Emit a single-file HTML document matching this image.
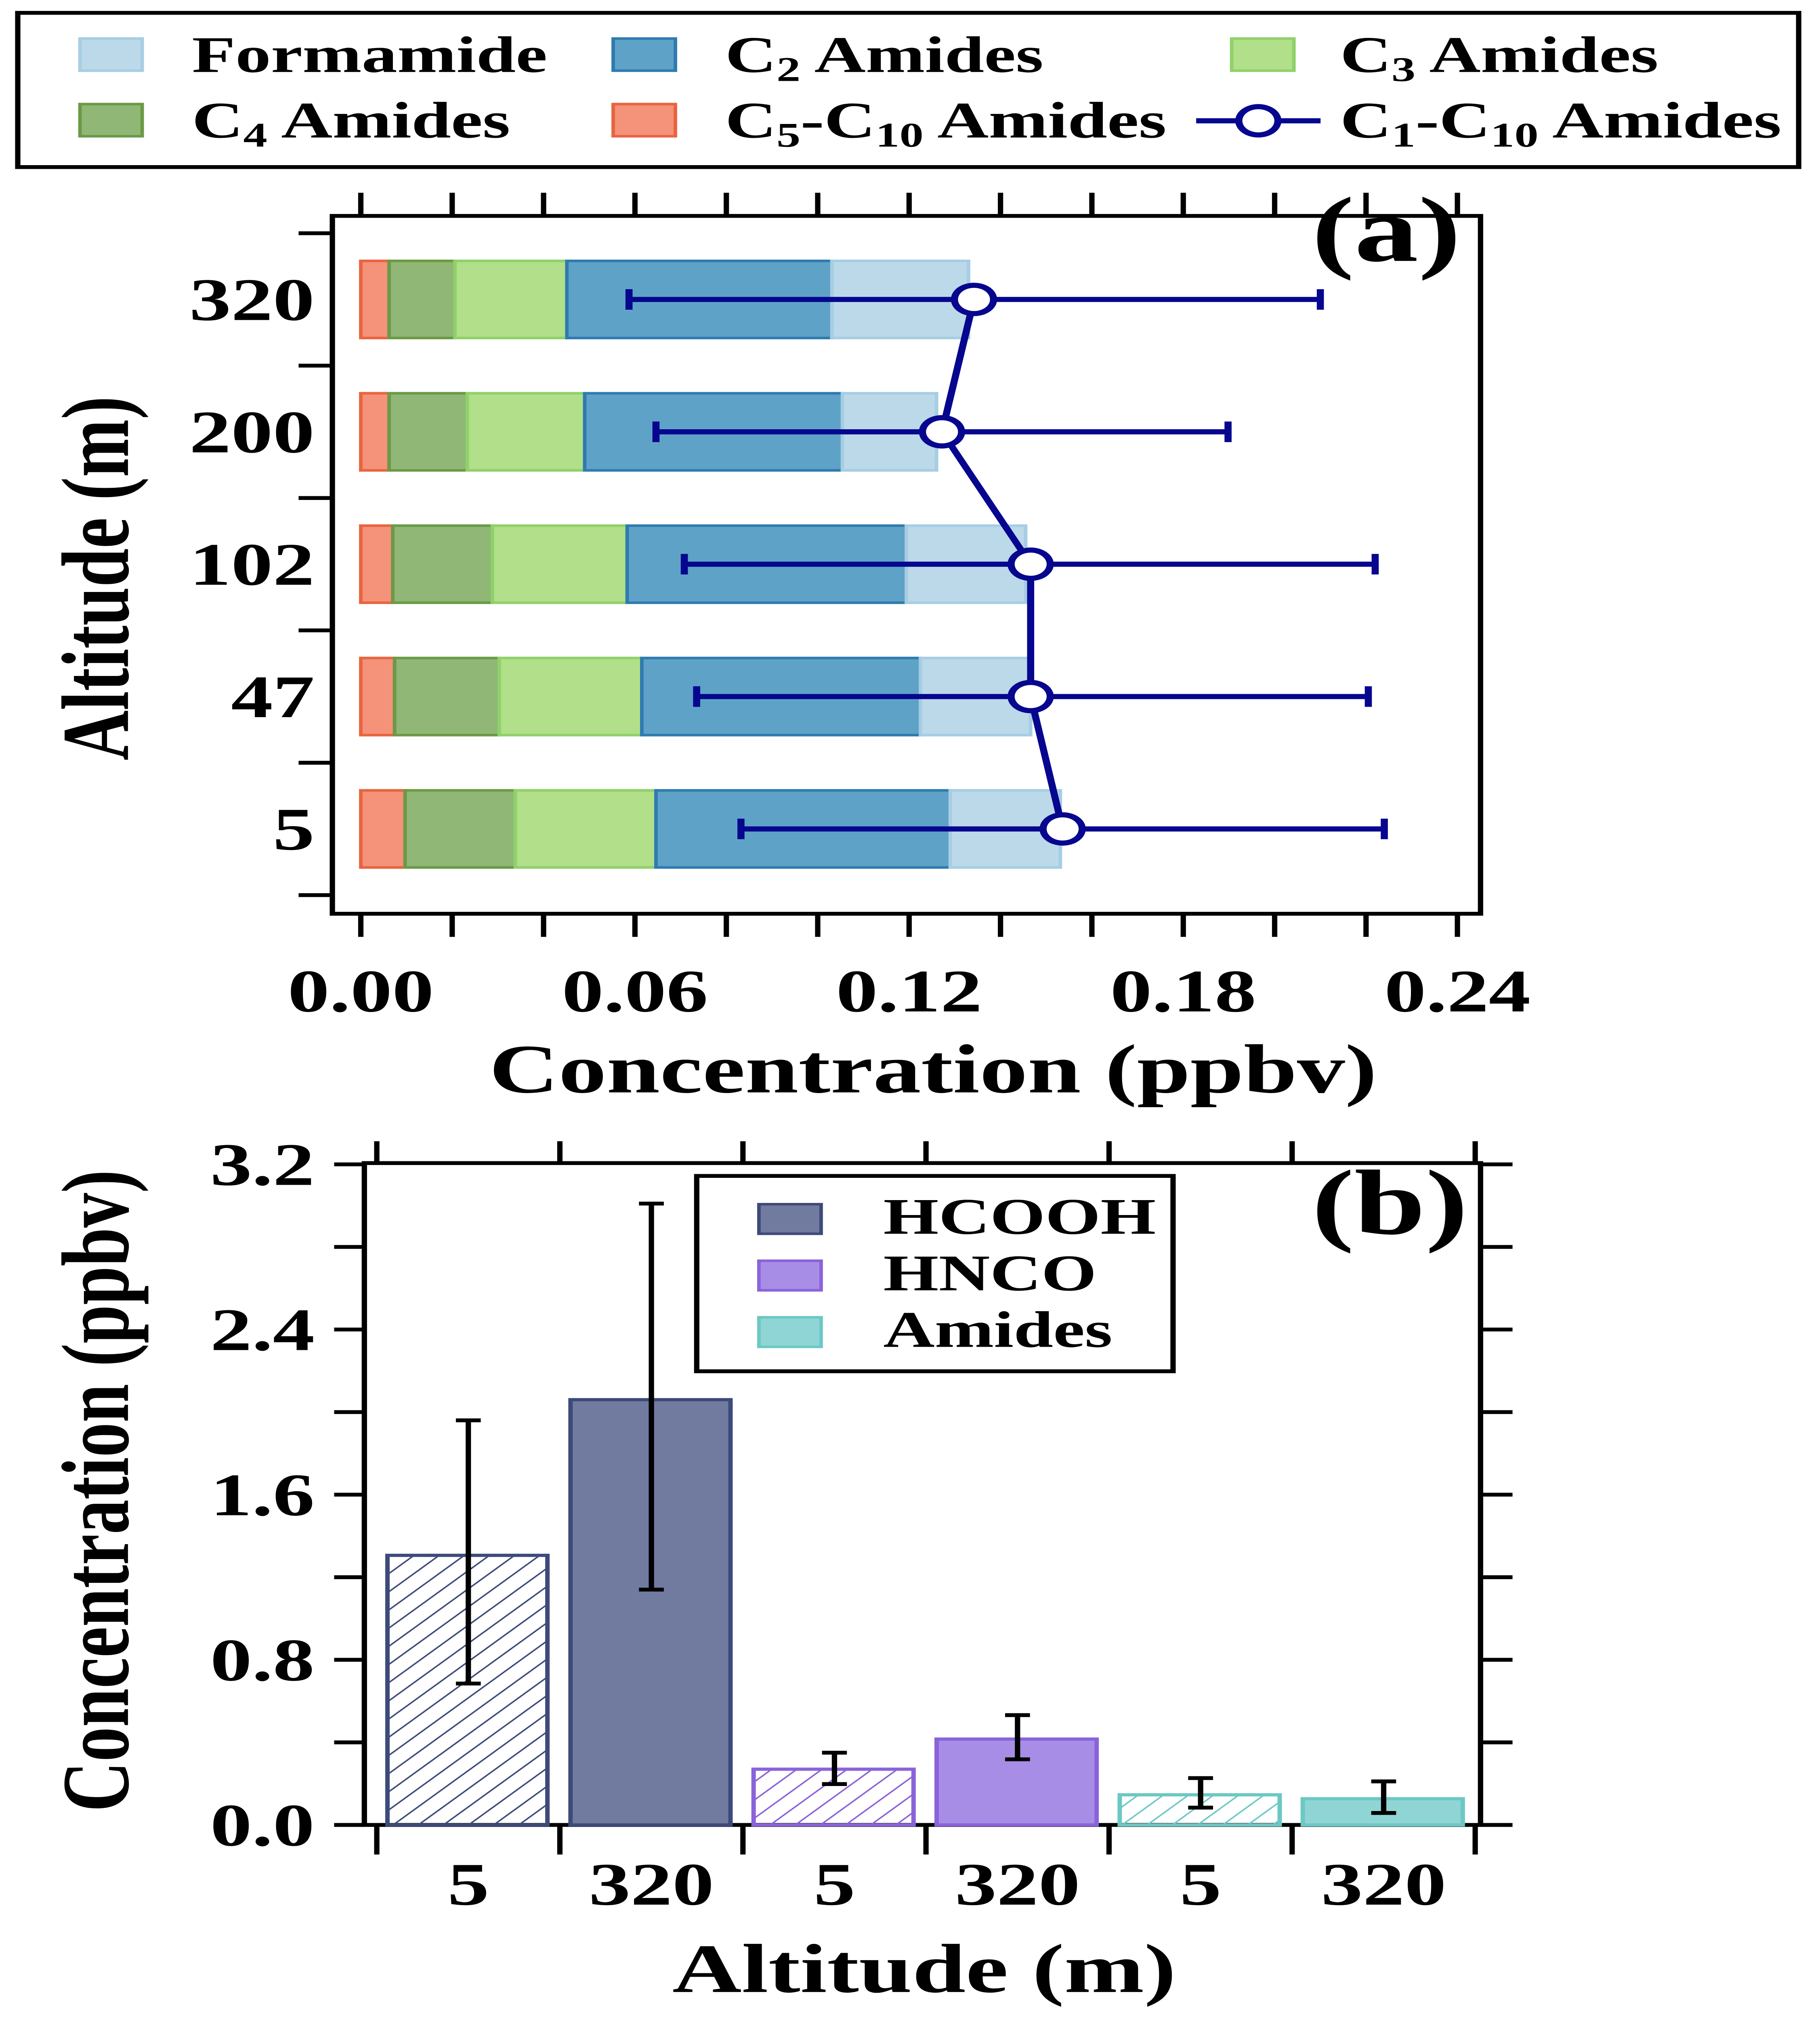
<!DOCTYPE html>
<html><head><meta charset="utf-8"><style>
html,body{margin:0;padding:0;background:#fff;width:100%;height:100%;overflow:hidden;}
svg{display:block;position:fixed;left:0;top:0;width:100vw;height:100vh;}
text{font-family:"Liberation Serif",serif;font-weight:bold;fill:#000;}
</style></head><body>
<svg id="chart" viewBox="0 0 1024 1571" preserveAspectRatio="none" xmlns="http://www.w3.org/2000/svg">
<defs>
<pattern id="hatch-hcooh" patternUnits="userSpaceOnUse" width="10" height="10" patternTransform="rotate(45)"><line x1="0" y1="0" x2="0" y2="10" stroke="#3d4a7a" stroke-width="2"/></pattern>
<pattern id="hatch-hnco" patternUnits="userSpaceOnUse" width="10" height="10" patternTransform="rotate(45)"><line x1="0" y1="0" x2="0" y2="10" stroke="#8a63d9" stroke-width="2"/></pattern>
<pattern id="hatch-amides" patternUnits="userSpaceOnUse" width="10" height="10" patternTransform="rotate(45)"><line x1="0" y1="0" x2="0" y2="10" stroke="#6cc8c4" stroke-width="2"/></pattern>
</defs>
<g id="legend-top">
<rect x="10" y="10" width="1002" height="120" fill="#fff" stroke="#000" stroke-width="3"/>
<rect x="45" y="30" width="35" height="25" fill="#bcd9ea" stroke="#a6cde3" stroke-width="2"/>
<text x="108" y="56" font-size="40">Formamide</text>
<rect x="345" y="30" width="35" height="25" fill="#5ea3c7" stroke="#2f7bb0" stroke-width="2"/>
<text x="408" y="56" font-size="40">C<tspan font-size="27" dy="7">2</tspan><tspan dy="-7"> Amides</tspan></text>
<rect x="693" y="30" width="35" height="25" fill="#b2df8a" stroke="#8fd16a" stroke-width="2"/>
<text x="754" y="56" font-size="40">C<tspan font-size="27" dy="7">3</tspan><tspan dy="-7"> Amides</tspan></text>
<rect x="45" y="81" width="35" height="25" fill="#91b777" stroke="#6a9a46" stroke-width="2"/>
<text x="108" y="107" font-size="40">C<tspan font-size="27" dy="7">4</tspan><tspan dy="-7"> Amides</tspan></text>
<rect x="345" y="81" width="35" height="25" fill="#f4927a" stroke="#e8643f" stroke-width="2"/>
<text x="408" y="107" font-size="40">C<tspan font-size="27" dy="7">5</tspan><tspan dy="-7">-C</tspan><tspan font-size="27" dy="7">10</tspan><tspan dy="-7"> Amides</tspan></text>
<line x1="673" y1="94" x2="743" y2="94" stroke="#06068f" stroke-width="4"/>
<circle cx="708" cy="94" r="11" fill="#fff" stroke="#06068f" stroke-width="4"/>
<text x="754" y="107" font-size="40">C<tspan font-size="27" dy="7">1</tspan><tspan dy="-7">-C</tspan><tspan font-size="27" dy="7">10</tspan><tspan dy="-7"> Amides</tspan></text>
</g>
<g id="pa"></g>
<g id="pb"></g>
</svg>
<script>
// Panel (a) data
const altA = ["5","47","102","200","320"];
const c5c10 = [0.0097,0.0074,0.0070,0.0062,0.0062];
const c4 = [0.0241,0.0229,0.0218,0.0171,0.0144];
const c3 = [0.0308,0.0312,0.0295,0.0257,0.0245];
const c2 = [0.0644,0.0610,0.0611,0.0564,0.0580];
const formamide = [0.0241,0.0241,0.0261,0.0206,0.0299];
const totalA = [0.1536,0.1466,0.1466,0.1272,0.1342];
const errLowA = [0.0832,0.0735,0.0708,0.0646,0.0587];
const errHighA = [0.2240,0.2205,0.2220,0.1898,0.2100];
const xTicksA = ["0.00","0.06","0.12","0.18","0.24"];
// Panel (b) data
const catB = ["5","320","5","320","5","320"];
const valB = [1.306,2.06,0.27,0.416,0.146,0.127];
const errLowB = [0.685,1.14,0.198,0.318,0.084,0.058];
const errHighB = [1.96,3.01,0.35,0.532,0.227,0.211];
const yTicksB = ["0.0","0.8","1.6","2.4","3.2"];

const NS="http://www.w3.org/2000/svg";
function mk(parent,tag,attrs){const e=document.createElementNS(NS,tag);for(const k in attrs)e.setAttribute(k,attrs[k]);parent.appendChild(e);return e;}
const TICKFS=47, TITLEFS=54;

// ---- Panel a
const pa=document.getElementById('pa');
const ax=v=>203+v*(617/0.24);
const ay=i=>645-i*103;
mk(pa,'rect',{x:187,y:168,width:646,height:543,fill:'none',stroke:'#000','stroke-width':3});
for(let k=0;k<=12;k++){const x=ax(k*0.02);
 let t=mk(pa,'line',{x1:x,y1:150,x2:x,y2:168,stroke:'#000','stroke-width':3});
 
 
 let b=mk(pa,'line',{x1:x,y1:711,x2:x,y2:729,stroke:'#000','stroke-width':3});
 
 }
xTicksA.forEach((s,i)=>{const t=mk(pa,'text',{x:ax(i*0.06),y:787,'font-size':TICKFS,'text-anchor':'middle'});t.textContent=s;
 
 });
for(let k=0;k<=5;k++){const y=ay(k)+51.5;
 let t=mk(pa,'line',{x1:168,y1:y,x2:187,y2:y,stroke:'#000','stroke-width':3});
 
 }
altA.forEach((s,i)=>{const t=mk(pa,'text',{x:177,y:ay(i)+16,'font-size':TICKFS,'text-anchor':'end'});t.textContent=s;
 
 });
const series=[[c5c10,'#f4927a','#e8643f','c5-c10'],[c4,'#91b777','#6a9a46','c4'],[c3,'#b2df8a','#8fd16a','c3'],[c2,'#5ea3c7','#2f7bb0','c2'],[formamide,'#bcd9ea','#a6cde3','formamide']];
altA.forEach((a,i)=>{let cum=0;series.forEach(s=>{const v=s[0][i];
 const r=mk(pa,'rect',{x:ax(cum),y:ay(i)-30,width:ax(cum+v)-ax(cum),height:60,fill:s[1],stroke:s[2],'stroke-width':2});
 
 
 cum+=v;});});
altA.forEach((a,i)=>{const y=ay(i);
 const l=mk(pa,'line',{x1:ax(errLowA[i]),y1:y,x2:ax(errHighA[i]),y2:y,stroke:'#06068f','stroke-width':4});
 
 
 [errLowA[i],errHighA[i]].forEach(v=>mk(pa,'line',{x1:ax(v),y1:y-8,x2:ax(v),y2:y+8,stroke:'#06068f','stroke-width':4}));});
const pl=mk(pa,'polyline',{points:altA.map((a,i)=>ax(totalA[i])+','+ay(i)).join(' '),fill:'none',stroke:'#06068f','stroke-width':4});


altA.forEach((a,i)=>{const c=mk(pa,'circle',{cx:ax(totalA[i]),cy:ay(i),r:11,fill:'#fff',stroke:'#06068f','stroke-width':4});
 
 });
let t=mk(pa,'text',{x:780,y:203,'font-size':72,'text-anchor':'middle'});t.textContent='(a)';


t=mk(pa,'text',{x:525,y:850,'font-size':TITLEFS,'text-anchor':'middle'});t.textContent='Concentration (ppbv)';


t=mk(pa,'text',{x:0,y:0,'font-size':TITLEFS,'text-anchor':'middle',transform:'translate(72,450) rotate(-90)'});t.textContent='Altitude (m)';



// ---- Panel b
const pb=document.getElementById('pb');
const by=v=>1420-v*(514/3.2);
const bx=i=>212+i*103;
mk(pb,'rect',{x:205,y:905,width:628,height:515,fill:'none',stroke:'#000','stroke-width':3});
for(let k=0;k<=8;k++){const y=by(k*0.4);
 let l=mk(pb,'line',{x1:188,y1:y,x2:205,y2:y,stroke:'#000','stroke-width':3});
 
 
 l=mk(pb,'line',{x1:833,y1:y,x2:851,y2:y,stroke:'#000','stroke-width':3});
 
 }
yTicksB.forEach((s,i)=>{const t=mk(pb,'text',{x:177,y:by(i*0.8)+16,'font-size':TICKFS,'text-anchor':'end'});t.textContent=s;
 
 });
for(let k=0;k<=6;k++){const x=bx(k);
 let l=mk(pb,'line',{x1:x,y1:888,x2:x,y2:905,stroke:'#000','stroke-width':3});
 
 
 l=mk(pb,'line',{x1:x,y1:1420,x2:x,y2:1443,stroke:'#000','stroke-width':3});
 
 }
const colB=[['#717ba0','#3d4a7a','hcooh'],['#a88de6','#8a63d9','hnco'],['#90d5d5','#6cc8c4','amides']];
catB.forEach((s,i)=>{const c=colB[Math.floor(i/2)];const hatched=i%2===0;
 const r=mk(pb,'rect',{x:bx(i)+6,y:by(valB[i]),width:90,height:by(0)-by(valB[i]),fill:hatched?'url(#hatch-'+c[2]+')':c[0],stroke:c[1],'stroke-width':2.5});
 
 
 const cx=bx(i)+51.5;
 const e=mk(pb,'line',{x1:cx,y1:by(errLowB[i]),x2:cx,y2:by(errHighB[i]),stroke:'#000','stroke-width':3});
 
 
 [errLowB[i],errHighB[i]].forEach(v=>mk(pb,'line',{x1:cx-7,y1:by(v),x2:cx+7,y2:by(v),stroke:'#000','stroke-width':3}));
 const t=mk(pb,'text',{x:cx,y:1482,'font-size':TICKFS,'text-anchor':'middle'});t.textContent=s;
 
 });
mk(pb,'rect',{x:392,y:915,width:268,height:152,fill:'#fff',stroke:'#000','stroke-width':3});
[['HCOOH',0],['HNCO',1],['Amides',2]].forEach(([n,k])=>{const c=colB[k];const y=937+k*44;
 const r=mk(pb,'rect',{x:427,y:y,width:35,height:23,fill:c[0],stroke:c[1],'stroke-width':2});
 
 
 const t=mk(pb,'text',{x:497,y:y+23,'font-size':40});t.textContent=n;
 
 });
t=mk(pb,'text',{x:782,y:960,'font-size':72,'text-anchor':'middle'});t.textContent='(b)';


t=mk(pb,'text',{x:520,y:1550,'font-size':TITLEFS,'text-anchor':'middle'});t.textContent='Altitude (m)';


t=mk(pb,'text',{x:0,y:0,'font-size':TITLEFS,'text-anchor':'middle',transform:'translate(72,1160) rotate(-90)'});t.textContent='Concentration (ppbv)';


</script>
</body></html>
